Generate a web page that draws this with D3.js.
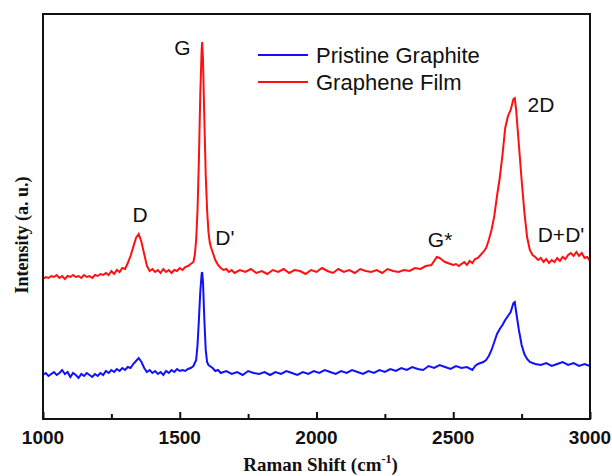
<!DOCTYPE html>
<html>
<head>
<meta charset="utf-8">
<script src="https://cdn.jsdelivr.net/npm/d3@7"></script>
<style>
  body { margin: 0; background: #fff; }
  svg { display: block; }
</style>
</head>
<body>
<div id="chart"></div>
<script>
// Raman shift (cm-1) and intensity (a.u.)
var redShift = [1000,1010,1020,1030,1040,1050,1060,1070,1080,1090,1100,1110,1120,1130,1140,1150,1160,1170,1180,1190,
  1200,1210,1220,1230,1240,1250,1260,1270,1280,1290,1300,1310,1320,1330,1340,1350,1360,1370,1380,1390,
  1400,1410,1420,1430,1440,1450,1460,1470,1480,1490,1500,1510,1520,1530,1540,1550,1555,1560,1565,1570,
  1575,1580,1582,1585,1590,1595,1600,1605,1610,1615,1620,1630,1640,1650,1660,1670,1680,1690,1700,1720,
  1740,1760,1780,1800,1820,1840,1860,1880,1900,1920,1940,1960,1980,2000,2020,2040,2060,2080,2100,2120,
  2140,2160,2180,2200,2220,2240,2260,2280,2300,2320,2340,2360,2380,2400,2420,2430,2440,2450,2460,2470,
  2480,2490,2500,2510,2520,2530,2540,2550,2560,2570,2580,2590,2600,2610,2620,2630,2640,2650,2660,2670,
  2680,2690,2700,2710,2720,2725,2730,2740,2750,2760,2770,2780,2790,2800,2810,2820,2830,2840,2850,2860,
  2870,2880,2890,2900,2910,2920,2930,2940,2950,2960,2970,2980,2990,3000];
var redIntensity = [140,142,141,143,142,144,141,143,140,143,142,144,142,143,141,144,142,143,141,144,
  143,145,144,146,144,148,145,149,147,151,150,156,163,172,181,185,177,165,153,148,
  150,147,149,146,150,147,149,146,149,148,151,149,152,153,155,157,164,179,209,259,
  324,369,377,359,299,244,209,187,176,171,167,159,154,151,149,150,147,149,146,149,
  147,150,146,148,145,149,147,150,146,149,148,145,149,147,151,148,146,150,147,149,
  146,150,148,147,149,146,150,148,147,149,148,151,150,153,154,158,162,161,159,157,
  156,155,154,155,153,155,157,154,158,156,160,161,164,167,171,179,189,203,223,241,
  264,291,303,309,320,321,309,274,239,207,182,169,164,162,159,161,157,160,156,159,
  157,161,158,162,160,164,166,163,167,163,166,161,162,158];

var blueShift = [1000,1010,1020,1030,1040,1050,1060,1070,1080,1090,1100,1110,1120,1130,1140,1150,1160,1170,1180,1190,
  1200,1210,1220,1230,1240,1250,1260,1270,1280,1290,1300,1310,1320,1330,1340,1350,1360,1370,1380,1390,
  1400,1410,1420,1430,1440,1450,1460,1470,1480,1490,1500,1510,1520,1530,1540,1550,1560,1565,1570,1575,
  1580,1582,1585,1590,1595,1600,1605,1610,1620,1630,1640,1650,1670,1690,1710,1730,1750,1770,1790,1810,
  1830,1850,1870,1890,1910,1930,1950,1970,1990,2010,2030,2050,2070,2090,2110,2130,2150,2170,2190,2210,
  2230,2250,2270,2290,2310,2330,2350,2370,2390,2410,2430,2450,2470,2490,2510,2530,2550,2570,2580,2590,
  2600,2610,2620,2630,2640,2650,2660,2670,2680,2690,2700,2710,2720,2725,2730,2740,2750,2760,2770,2780,
  2790,2800,2820,2840,2860,2880,2900,2920,2940,2960,2980,3000];
var blueIntensity = [44,46,43,45,47,44,46,49,45,47,42,46,44,41,45,43,46,44,42,45,
  43,46,44,48,46,49,47,50,48,51,49,52,51,55,58,61,57,51,47,49,
  46,48,45,47,44,48,46,49,47,50,48,49,48,50,51,53,59,74,99,127,
  145,147,137,99,69,57,54,53,51,48,49,46,48,45,47,44,48,46,45,47,
  44,47,45,48,46,44,47,45,48,46,49,47,45,48,46,49,47,45,48,46,
  49,47,50,48,51,49,52,50,49,53,51,54,52,50,53,51,52,49,53,55,
  56,57,59,63,69,77,85,90,94,99,103,107,116,117,107,89,74,65,60,57,
  56,55,54,56,53,55,57,54,56,53,55,53];

var labels = [
  { text: "G",    x: 1510, y: 364 },
  { text: "D",    x: 1355, y: 197 },
  { text: "D'",   x: 1665, y: 174 },
  { text: "G*",   x: 2452, y: 172 },
  { text: "2D",   x: 2821, y: 307 },
  { text: "D+D'", x: 2894, y: 177 }
];

var svgWidth = 612;
var svgHeight = 476;
var margin = { top: 14, right: 22, bottom: 57, left: 43 };
var width = svgWidth - margin.left - margin.right;
var height = svgHeight - margin.top - margin.bottom;

var svg = d3.select("#chart")
  .append("svg")
  .attr("width", svgWidth)
  .attr("height", svgHeight);

var chartGroup = svg.append("g")
  .attr("transform", `translate(${margin.left}, ${margin.top})`);

var xScale = d3.scaleLinear().domain([1000, 3000]).range([0, width]);
var yScale = d3.scaleLinear().domain([0, 405]).range([height, 0]);

// bottom axis: inward ticks, labels drawn separately
var majorTicks = [1000, 1500, 2000, 2500, 3000];
var minorTicks = [1250, 1750, 2250, 2750];

var xAxis = chartGroup.append("g")
  .attr("transform", `translate(0, ${height})`)
  .call(d3.axisBottom(xScale).tickValues(majorTicks).tickSize(-7).tickFormat(""));
xAxis.select(".domain").remove();
xAxis.selectAll("line").attr("stroke", "#111").attr("stroke-width", 2);

var xMinor = chartGroup.append("g")
  .attr("transform", `translate(0, ${height})`)
  .call(d3.axisBottom(xScale).tickValues(minorTicks).tickSize(-5).tickFormat(""));
xMinor.select(".domain").remove();
xMinor.selectAll("line").attr("stroke", "#111").attr("stroke-width", 2);

chartGroup.append("g")
  .selectAll("text")
  .data(majorTicks)
  .enter()
  .append("text")
  .attr("x", d => xScale(d))
  .attr("y", height + 25)
  .attr("text-anchor", "middle")
  .attr("font-family", "Liberation Sans, Arial, sans-serif")
  .attr("font-weight", "bold")
  .attr("font-size", "19px")
  .attr("fill", "#111")
  .text(d => d);

var line = d3.line()
  .x(d => xScale(d[0]))
  .y(d => yScale(d[1]));

var redData = redShift.map((s, i) => [s, redIntensity[i]]);
var blueData = blueShift.map((s, i) => [s, blueIntensity[i]]);

chartGroup.append("path")
  .datum(blueData)
  .attr("fill", "none")
  .attr("stroke", "#1010ff")
  .attr("stroke-width", 2)
  .attr("d", line);

chartGroup.append("path")
  .datum(redData)
  .attr("fill", "none")
  .attr("stroke", "#ff1010")
  .attr("stroke-width", 2)
  .attr("d", line);

// frame
chartGroup.append("rect")
  .attr("x", 0)
  .attr("y", 0)
  .attr("width", width)
  .attr("height", height)
  .attr("fill", "none")
  .attr("stroke", "#111")
  .attr("stroke-width", 2);

// peak labels
chartGroup.append("g")
  .selectAll("text")
  .data(labels)
  .enter()
  .append("text")
  .attr("x", d => xScale(d.x))
  .attr("y", d => yScale(d.y))
  .attr("text-anchor", "middle")
  .attr("font-family", "Liberation Sans, Arial, sans-serif")
  .attr("font-size", "21px")
  .attr("fill", "#111")
  .text(d => d.text);

// legend
var legendItems = [
  { name: "Pristine Graphite", color: "#1010ff" },
  { name: "Graphene Film", color: "#ff1010" }
];
var legend = chartGroup.append("g")
  .attr("transform", "translate(215, 41)");
legend.selectAll("line")
  .data(legendItems)
  .enter()
  .append("line")
  .attr("x1", 0)
  .attr("x2", 50)
  .attr("y1", (d, i) => i * 27)
  .attr("y2", (d, i) => i * 27)
  .attr("stroke", d => d.color)
  .attr("stroke-width", 2);
legend.selectAll("text")
  .data(legendItems)
  .enter()
  .append("text")
  .attr("x", 58)
  .attr("y", (d, i) => i * 27 + 8)
  .attr("font-family", "Liberation Sans, Arial, sans-serif")
  .attr("font-size", "22px")
  .attr("fill", "#111")
  .text(d => d.name);

// axis titles
var xTitle = svg.append("text")
  .attr("x", margin.left + width / 2 + 4)
  .attr("y", 471)
  .attr("text-anchor", "middle")
  .attr("font-family", "Liberation Serif, Times New Roman, serif")
  .attr("font-weight", "bold")
  .attr("font-size", "19px")
  .attr("fill", "#111");
xTitle.append("tspan").text("Raman Shift (cm");
xTitle.append("tspan").attr("dy", -8).attr("font-size", "12px").text("-1");
xTitle.append("tspan").attr("dy", 8).text(")");

svg.append("text")
  .attr("transform", `translate(28, 235) rotate(-90)`)
  .attr("text-anchor", "middle")
  .attr("font-family", "Liberation Serif, Times New Roman, serif")
  .attr("font-weight", "bold")
  .attr("font-size", "18px")
  .attr("fill", "#111")
  .text("Intensity (a. u.)");
</script>
</body>
</html>
